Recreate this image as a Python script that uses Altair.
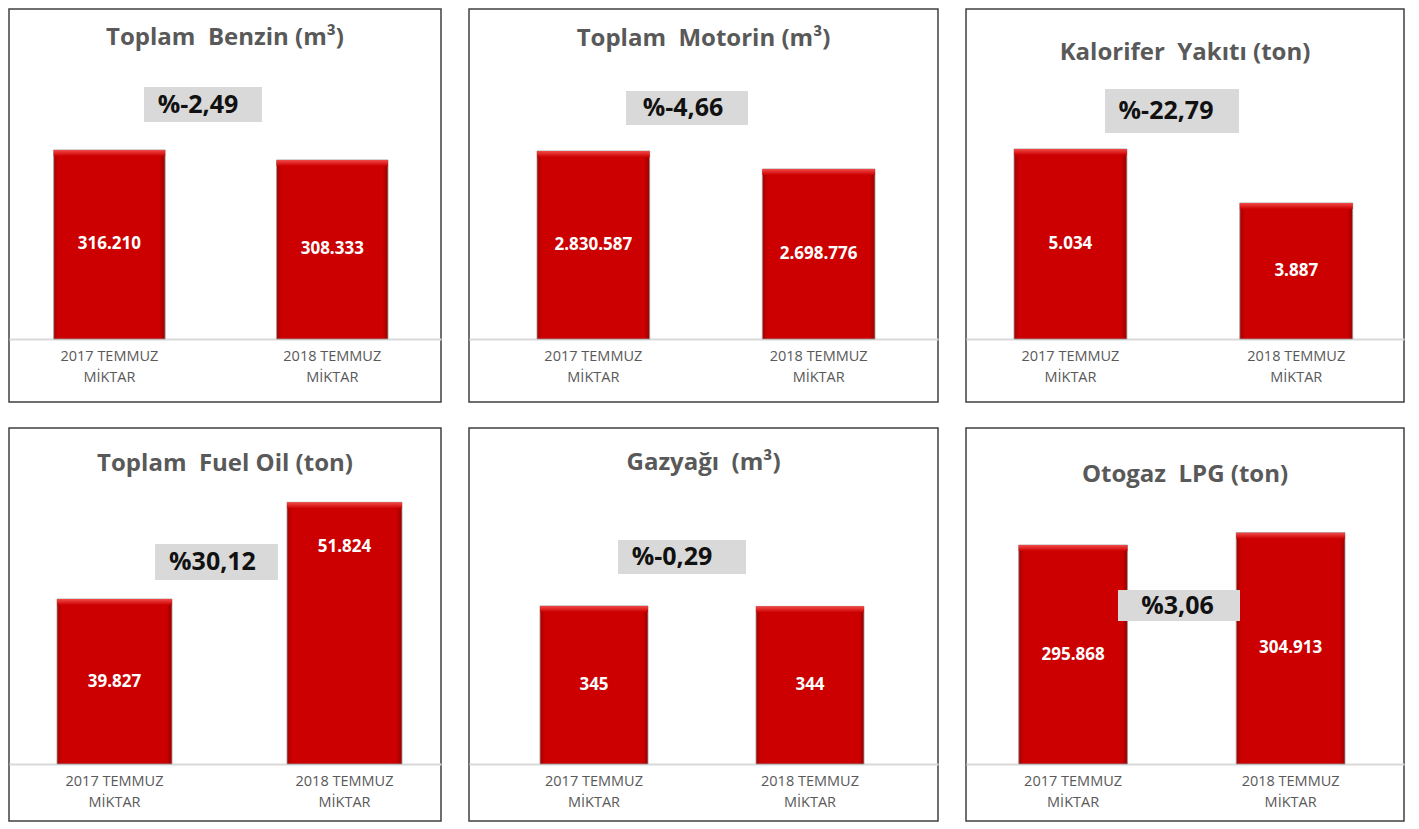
import altair as alt
import pandas as pd

# ---------------- data ----------------
titles = [
    "Toplam \u00a0Benzin (m³)",
    "Toplam \u00a0Motorin (m³)",
    "Kalorifer \u00a0Yakıtı (ton)",
    "Toplam \u00a0Fuel Oil (ton)",
    "Gazyağı \u00a0(m³)",
    "Otogaz \u00a0LPG (ton)",
]
periods = ["2017 TEMMUZ", "2018 TEMMUZ"]
sub_label = "MİKTAR"
values_2017 = [316210, 2830587, 5034, 39827, 345, 295868]
values_2018 = [308333, 2698776, 3887, 51824, 344, 304913]
changes = ["%-2,49", "%-4,66", "%-22,79", "%30,12", "%-0,29", "%3,06"]

# ---------------- layout (styles / positions, not data) ----------------
PANEL_H = 393
layout = [
    dict(w=432, base=330, ymin=167300, ymax=353200, title_y=36, bl=44.7, br=379,
         box=(135, 253, 78, 113), tx=189, frac=(0.5, 0.5)),
    dict(w=469, base=330, ymin=1453900, ymax=3182100, title_y=37, bl=68, br=406,
         box=(157, 279, 82, 116), tx=214, frac=(0.5, 0.5)),
    dict(w=438, base=330, ymin=998, ymax=6011, title_y=51, bl=48, br=386.7,
         box=(139, 273, 80, 124), tx=200, frac=(0.5, 0.5)),
    dict(w=432, base=336, ymin=19360, ymax=48640, title_y=43, bl=48, br=393,
         box=(146, 269, 116, 152), tx=203.5, frac=(0.5, 0.83)),
    dict(w=469, base=336, ymin=0, ymax=515, title_y=42, bl=71, br=395,
         box=(149, 277, 112, 146), tx=203, frac=(0.5, 0.5)),
    dict(w=438, base=336, ymin=136100, ymax=308300, title_y=54, bl=52.7, br=379,
         box=(152, 274, 162, 193), tx=211.5, frac=(0.5, 0.5)),
]

FONT = "Open Sans"
RED = "#cc0000"


def fmt(v):
    return f"{v:,}".replace(",", ".")


def band_params(L, R, W):
    span = R - L
    step = span / 1.5
    po = (W / step - 1.5) / 2
    al = L / (W - span)
    return po, al


def panel(i):
    L = layout[i]
    df = pd.DataFrame({
        "period": periods,
        "value": [values_2017[i], values_2018[i]],
        "label": [fmt(values_2017[i]), fmt(values_2018[i])],
        "frac": list(L["frac"]),
    })
    po, al = band_params(L["bl"], L["br"], L["w"])
    xenc = alt.X(
        "period:N",
        sort=periods,
        scale=alt.Scale(paddingInner=0.5, paddingOuter=po, align=al),
        axis=alt.Axis(
            title=None, orient="bottom", offset=L["base"] - PANEL_H,
            domainColor="#d9d9d9", domainWidth=2, ticks=False, labelAngle=0,
            labelFont=FONT, labelFontSize=14.5, labelColor="#595959",
            labelPadding=10, labelLineHeight=21, labelBaseline="top",
            labelExpr="[datum.label, '" + sub_label + "']",
        ),
    )
    yscale = alt.Scale(domain=[L["ymin"], L["ymax"]], range=[L["base"], L["base"] - 236],
                       nice=False, zero=False)

    base = alt.Chart(df)
    bars = base.mark_bar(
        fill=alt.Gradient(
            gradient="linear", x1=0, x2=1, y1=0, y2=0,
            stops=[alt.GradientStop(color="#a80000", offset=0),
                   alt.GradientStop(color=RED, offset=0.05),
                   alt.GradientStop(color=RED, offset=0.95),
                   alt.GradientStop(color="#9c0000", offset=1)],
        ),
        stroke="#9a9a9a", strokeWidth=1, strokeOpacity=0.8,
    ).encode(
        x=xenc,
        y=alt.Y("value:Q", scale=yscale, axis=None),
        y2=alt.datum(L["ymin"]),
    )
    bevel = base.mark_bar(
        y2Offset=6,
        fill=alt.Gradient(
            gradient="linear", x1=0, x2=0, y1=0, y2=1,
            stops=[alt.GradientStop(color="#f24a4a", offset=0),
                   alt.GradientStop(color=RED, offset=1)],
        ),
    ).encode(
        x=xenc,
        y=alt.Y("value:Q", scale=yscale, axis=None),
        y2=alt.Y2("value:Q"),
    )
    labels = base.transform_calculate(
        label_y=f"{L['ymin']} + datum.frac * (datum.value - {L['ymin']})"
    ).mark_text(
        font=FONT, fontSize=17, fontWeight="bold", color="white", baseline="middle"
    ).encode(
        x=xenc,
        y=alt.Y("label_y:Q", scale=yscale, axis=None),
        text="label:N",
    )
    b = L["box"]
    anndf = pd.DataFrame({"change": [changes[i]], "title": [titles[i]]})
    box = alt.Chart(anndf).mark_rect(color="#d9d9d9").encode(
        x=alt.value(b[0]), x2=alt.value(b[1]), y=alt.value(b[2]), y2=alt.value(b[3])
    )
    boxtext = alt.Chart(anndf).mark_text(
        font=FONT, fontSize=25, fontWeight="bold", color="#111111",
        baseline="middle", align="center",
    ).encode(x=alt.value(L["tx"]), y=alt.value((b[2] + b[3]) / 2), text="change:N")
    title = alt.Chart(anndf).mark_text(
        font=FONT, fontSize=24, fontWeight="bold", color="#595959",
        baseline="alphabetic", align="center",
    ).encode(x=alt.value(L["w"] / 2), y=alt.value(L["title_y"]), text="title:N")

    return alt.layer(bars, bevel, labels, box, boxtext, title).properties(
        width=L["w"], height=PANEL_H,
    )


row1 = alt.hconcat(panel(0), panel(1), panel(2), spacing=26)
row2 = alt.hconcat(panel(3), panel(4), panel(5), spacing=26)
chart = alt.vconcat(row1, row2, spacing=24).properties(
    padding=0, background="white"
).configure_view(stroke="#404040", strokeWidth=1.5)

chart.save("out.html", embed_options={"renderer": "svg", "actions": False})
